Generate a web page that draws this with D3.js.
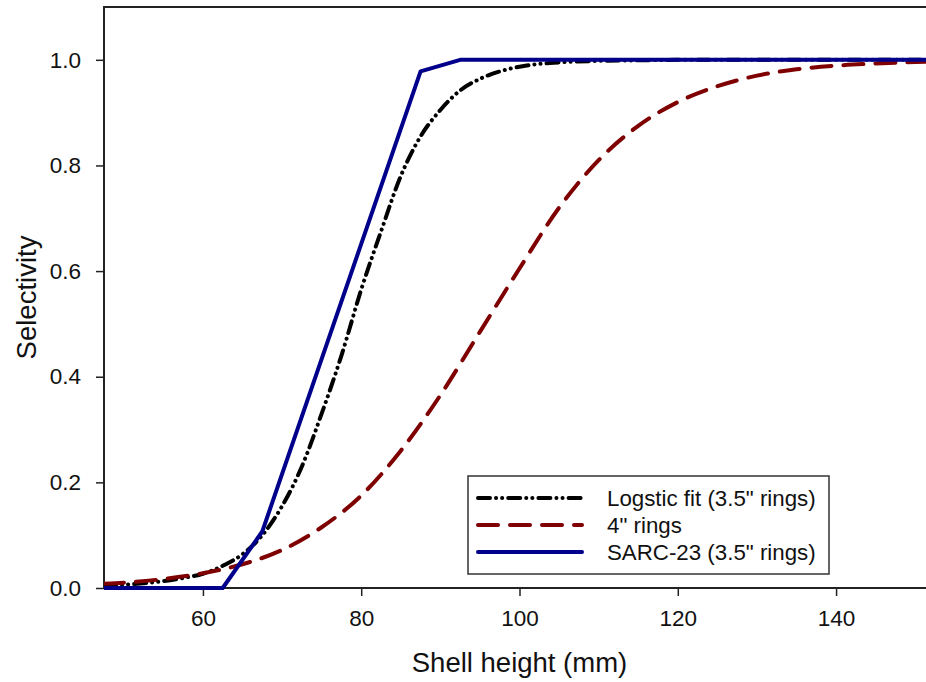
<!DOCTYPE html>
<html>
<head>
<meta charset="utf-8">
<script src="https://cdn.jsdelivr.net/npm/d3@7"></script>
<style>
  html, body { margin: 0; padding: 0; background: #fff; }
  svg { display: block; font-family: "Liberation Sans", Arial, sans-serif; }
  .axis path, .axis line { stroke: #222; }
  .axis text { fill: #111; }
</style>
</head>
<body>
<div id="chart"></div>
<script>
// Shell height (mm) -> selectivity
const logisticX = [47.5, 50, 52.5, 55, 57.5, 60, 62.5, 65, 67.5, 70, 72.5, 75, 77.5, 80, 82.5, 85, 87.5, 90, 92.5, 95, 97.5, 100, 105, 110, 115, 120, 130, 140, 152.5];
const logisticY = [0.004, 0.006, 0.009, 0.013, 0.019, 0.027, 0.042, 0.064, 0.10, 0.155, 0.23, 0.33, 0.44, 0.565, 0.675, 0.78, 0.855, 0.905, 0.942, 0.964, 0.978, 0.987, 0.995, 0.998, 0.999, 1.0, 1.0, 1.0, 1.0];

const ringsX = [47.5, 50, 55, 60, 65, 70, 75, 80, 85, 90, 95, 100, 105, 110, 115, 120, 125, 130, 135, 140, 145, 150, 152.5];
const ringsY = [0.008, 0.010, 0.017, 0.028, 0.045, 0.072, 0.115, 0.175, 0.26, 0.365, 0.485, 0.605, 0.72, 0.81, 0.875, 0.92, 0.95, 0.97, 0.982, 0.989, 0.993, 0.996, 0.997];

const sarcX = [47.5, 62.5, 67.5, 87.5, 92.5, 152.5];
const sarcY = [0, 0, 0.107, 0.978, 1.0, 1.0];

const xTicks = [60, 80, 100, 120, 140];
const yTicks = [0, 0.2, 0.4, 0.6, 0.8, 1.0];

const seriesNames = ["Logstic fit (3.5\" rings)", "4\" rings", "SARC-23 (3.5\" rings)"];

const width = 926, height = 682;
const plot = { left: 104, top: 7, bottom: 588, right: 935 };

const x = d3.scaleLinear().domain([47.5, 152.5]).range([plot.left, plot.right]);
const y = d3.scaleLinear().domain([0, 1.1]).range([plot.bottom, plot.top]);

const styles = [
  { color: "#000000", dash: "12,6,0.1,6,0.1,6" },
  { color: "#7f0000", dash: "20,12" },
  { color: "#00008b", dash: null }
];

const series = [
  logisticX.map((v, i) => [v, logisticY[i]]),
  ringsX.map((v, i) => [v, ringsY[i]]),
  sarcX.map((v, i) => [v, sarcY[i]])
];

const svg = d3.select("#chart").append("svg").attr("width", width).attr("height", height);

svg.append("defs").append("clipPath").attr("id", "plotclip")
  .append("rect")
  .attr("x", plot.left).attr("y", plot.top)
  .attr("width", width - plot.left).attr("height", plot.bottom - plot.top + 3);

// axes
const yAxis = d3.axisLeft(y).tickValues(yTicks).tickFormat(d3.format(".1f")).tickSize(8).tickPadding(15);
svg.append("g").attr("class", "axis")
  .attr("transform", `translate(${plot.left},0)`)
  .call(yAxis)
  .call((g) => g.select(".domain").remove())
  .selectAll("text").style("font-size", "22.5px");

const xAxis = d3.axisBottom(x).tickValues(xTicks).tickSize(8).tickPadding(14);
svg.append("g").attr("class", "axis")
  .attr("transform", `translate(0,${plot.bottom})`)
  .call(xAxis)
  .call((g) => g.select(".domain").remove())
  .selectAll("text").style("font-size", "22.5px");

svg.selectAll(".axis .tick line").attr("stroke-width", 1.5);

// frame: left, top, bottom lines
svg.append("path")
  .attr("d", `M${plot.left},${plot.bottom}V${plot.top}H${width}`)
  .attr("fill", "none").attr("stroke", "#222").attr("stroke-width", 2);
svg.append("line")
  .attr("x1", plot.left).attr("x2", width)
  .attr("y1", plot.bottom).attr("y2", plot.bottom)
  .attr("stroke", "#222").attr("stroke-width", 2);

// curves
const lineGen = d3.line()
  .x((d) => x(d[0]))
  .y((d) => y(d[1]));

svg.append("g").attr("clip-path", "url(#plotclip)")
  .selectAll("path.curve")
  .data(series)
  .join("path")
  .attr("class", "curve")
  .attr("d", (d, i) => (i === 2 ? lineGen.curve(d3.curveLinear)(d) : lineGen.curve(d3.curveMonotoneX)(d)))
  .attr("fill", "none")
  .attr("stroke", (d, i) => styles[i].color)
  .attr("stroke-width", 4)
  .attr("stroke-linecap", (d, i) => (i === 2 ? "butt" : "round"))
  .attr("stroke-linejoin", "round")
  .attr("stroke-dasharray", (d, i) => styles[i].dash);

// axis titles
svg.append("text")
  .attr("x", x(100)).attr("y", 672)
  .attr("text-anchor", "middle")
  .style("font-size", "27.5px").attr("fill", "#111")
  .text("Shell height (mm)");

svg.append("text")
  .attr("transform", `translate(36,${y(0.55)}) rotate(-90)`)
  .attr("text-anchor", "middle")
  .style("font-size", "27.5px").attr("fill", "#111")
  .text("Selectivity");

// legend
const legend = svg.append("g").attr("transform", "translate(468,476)");
legend.append("rect")
  .attr("width", 361).attr("height", 98)
  .attr("fill", "#fff").attr("stroke", "#333").attr("stroke-width", 1.5);

const rows = legend.selectAll("g.row").data(seriesNames).join("g")
  .attr("class", "row")
  .attr("transform", (d, i) => `translate(0,${22 + i * 27})`);

rows.append("line")
  .attr("x1", 10).attr("x2", 114)
  .attr("stroke", (d, i) => styles[i].color)
  .attr("stroke-width", 4)
  .attr("stroke-linecap", "round")
  .attr("stroke-dasharray", (d, i) => styles[i].dash);

rows.append("text")
  .attr("x", 139).attr("dy", "0.35em")
  .style("font-size", "22.3px").attr("fill", "#111")
  .text((d) => d);
</script>
</body>
</html>
